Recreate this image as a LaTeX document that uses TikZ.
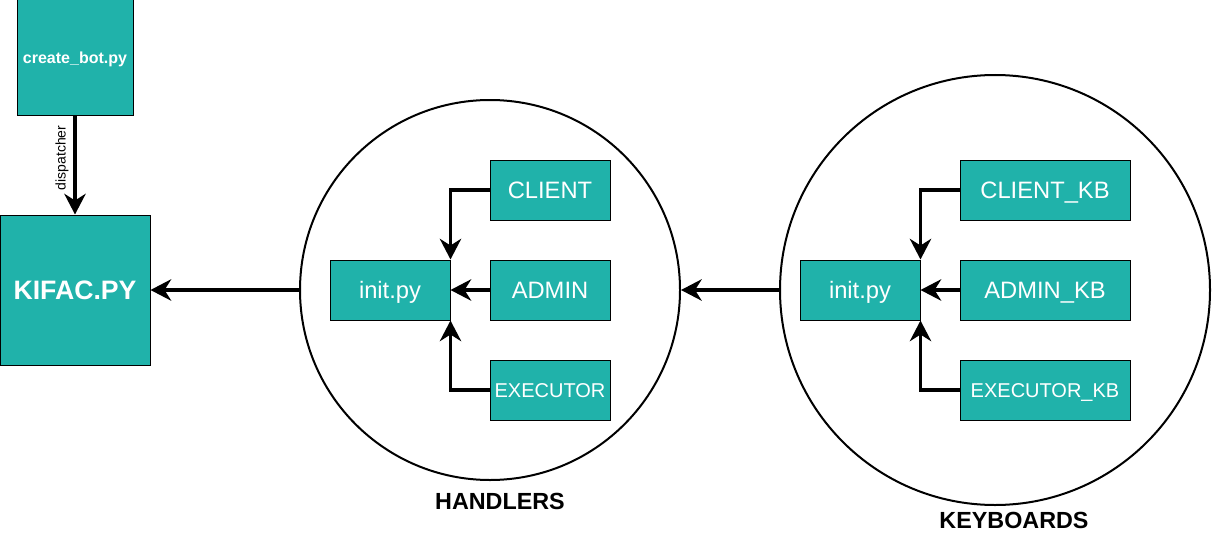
\documentclass[tikz,border=0pt]{standalone}
\usepackage{fontspec}
\setmainfont{Liberation Sans}
\usetikzlibrary{arrows.meta}
\definecolor{teal1}{RGB}{32,178,170}
\tikzset{
  box/.style={draw=black, line width=0.75pt, fill=teal1, text=white, inner sep=0pt, minimum height=45pt, minimum width=90pt, text height=12.8pt, text depth=0pt, font=\fontsize{17.8}{21}\selectfont},
  smalltext/.style={font=\fontsize{15}{18}\selectfont, text height=10.8pt},
  ring/.style={draw=black, line width=1.5pt, circle, inner sep=0pt},
  conn/.style={line width=2.6pt, -{Stealth[length=15.5pt,width=16pt,inset=5pt]}},
  title/.style={font=\bfseries\fontsize{17.5}{20}\selectfont, text=black}
}
\begin{document}
\begin{tikzpicture}[x=0.75pt,y=-0.75pt]
\useasboundingbox (0,0) rectangle (1212,535);
% circles
\node[ring, minimum size=285pt] (c1) at (490,290) {};
\node[ring, minimum size=322.5pt] (c2) at (995,290) {};
% left column
\node[box, minimum width=87pt, minimum height=86.25pt, text height=8.6pt, font=\bfseries\fontsize{12}{14}\selectfont] (bot) at (75,57.5) {create\_bot.py};
\node[box, minimum width=112.5pt, minimum height=112.5pt, text height=14.4pt, font=\bfseries\fontsize{20}{24}\selectfont] (kifac) at (75,290) {KIFAC.PY};
% handlers
\node[box] (init1) at (390,290) {init.py};
\node[box] (client) at (550,190) {CLIENT};
\node[box] (admin) at (550,290) {ADMIN};
\node[box, smalltext] (exec) at (550,390) {EXECUTOR};
% keyboards
\node[box] (init2) at (860,290) {init.py};
\node[box, minimum width=127.5pt] (clientkb) at (1045,190) {CLIENT\_KB};
\node[box, minimum width=127.5pt] (adminkb) at (1045,290) {ADMIN\_KB};
\node[box, minimum width=127.5pt, smalltext] (execkb) at (1045,390) {EXECUTOR\_KB};
% titles
\node[title] (handlers) at (500,501) {HANDLERS};
\node[title] (keyboards) at (1014,520) {KEYBOARDS};
% connectors
\draw[conn] (bot.south) -- (kifac.north);
\node[rotate=90, font=\fontsize{10.5}{12}\selectfont] (disp) at (62,158) {dispatcher};
\draw[conn] (client.west) -| (init1.north east);
\draw[conn] (admin.west) -- (init1.east);
\draw[conn] (exec.west) -| (init1.south east);
\draw[conn] (clientkb.west) -| (init2.north east);
\draw[conn] (adminkb.west) -- (init2.east);
\draw[conn] (execkb.west) -| (init2.south east);
\draw[conn] (c2.west) -- (c1.east);
\draw[conn] (c1.west) -- (kifac.east);
\end{tikzpicture}
\end{document}
